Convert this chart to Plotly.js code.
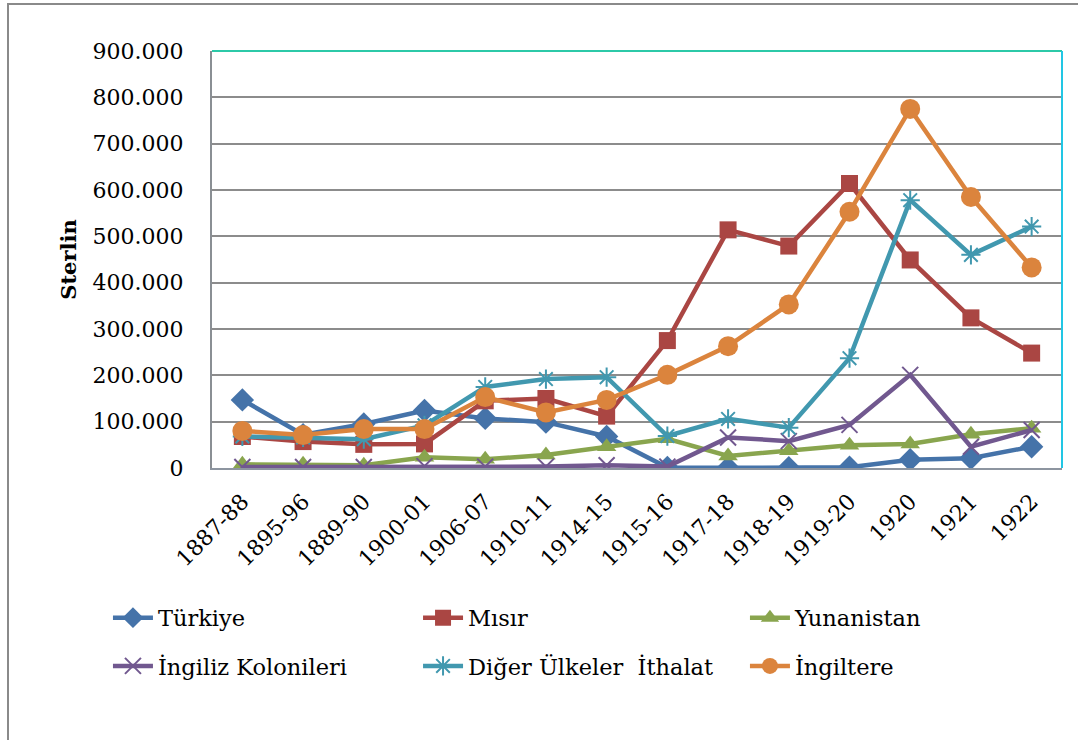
<!DOCTYPE html>
<html>
<head>
<meta charset="utf-8">
<script src="https://cdn.plot.ly/plotly-3.0.1.min.js"></script>
<style>
  html, body { margin: 0; padding: 0; background: #fff; }
  #wrap { position: relative; width: 1078px; height: 740px; overflow: hidden; }
  #frame { position: absolute; left: 7px; top: 3px; width: 1090px; height: 760px;
           border-left: 2px solid #8a8a8a; border-top: 2px solid #8a8a8a; pointer-events: none; }
  #chart { position: absolute; left: 0; top: 0; width: 1078px; height: 740px; }
</style>
</head>
<body>
<div id="wrap">
  <div id="chart"></div>
  <div id="frame"></div>
</div>
<script>
const categories = ["1887-88", "1895-96", "1889-90", "1900-01", "1906-07", "1910-11", "1914-15",
                    "1915-16", "1917-18", "1918-19", "1919-20", "1920", "1921", "1922"];

const turkiye    = [147000, 72000, 95000, 124000, 107000, 99000, 68000, 1000, 500, 500, 1500, 18000, 21000, 46000];
const misir      = [68000, 57000, 51000, 52000, 145000, 150000, 112000, 275000, 514000, 479000, 614000, 449000, 324000, 248000];
const yunanistan = [8000, 8000, 6000, 23000, 19000, 28000, 46000, 63000, 26000, 37000, 49000, 52000, 73000, 86000];
const kolonileri = [2000, 2000, 2000, 4000, 3000, 3000, 6000, 3000, 66000, 58000, 93000, 201000, 46000, 82000];
const digerUlkeler = [68000, 66000, 62000, 92000, 175000, 192000, 196000, 69000, 106000, 87000, 237000, 578000, 460000, 521000];
const ingiltere  = [80000, 71000, 84000, 84000, 153000, 120000, 147000, 201000, 263000, 353000, 553000, 775000, 585000, 433000];

const seriesNames = ["Türkiye", "Mısır", "Yunanistan", "İngiliz Kolonileri", "Diğer Ülkeler\u00a0 İthalat", "İngiltere"];
const yTitle = "Sterlin";

const FONT = "DejaVu Serif, Liberation Serif, serif";

function tr(name, y, color, symbol, size, legend, open, group) {
  const marker = { symbol: symbol, size: size, color: color };
  if (open) marker.line = { color: color, width: 2 };
  else marker.line = { width: 0 };
  return {
    type: "scatter", mode: "lines+markers", name: name,
    x: categories, y: y,
    line: { color: color, width: 4.5 },
    marker: marker,
    legend: legend,
    legendgroup: group
  };
}

const data = [
  tr(seriesNames[0], turkiye, "#4573A9", "diamond", 18, "legend", false, "g1"),
  tr(seriesNames[1], misir, "#AA4643", "square", 17, "legend2", false, "g2"),
  tr(seriesNames[2], yunanistan, "#89A54E", "triangle-up", 17, "legend3", false, "g3"),
  tr(seriesNames[3], kolonileri, "#71588F", "x-thin-open", 16, "legend", true, "g4"),
  tr(seriesNames[4], digerUlkeler, "#4198AF", "asterisk-open", 16, "legend2", true, "g5"),
  tr(seriesNames[5], ingiltere, "#DB843D", "circle", 20, "legend3", false, "g6")
];

const legendCommon = {
  orientation: "v", xanchor: "left", yanchor: "middle", y: -0.4173,
  font: { family: FONT, size: 22.5, color: "#000" },
  bgcolor: "rgba(0,0,0,0)", borderwidth: 0,
  itemwidth: 40, tracegroupgap: 16,
  traceorder: "grouped"
};

const layout = {
  width: 1078, height: 740,
  margin: { l: 212, r: 16, t: 51, b: 272, pad: 0 },
  paper_bgcolor: "rgba(0,0,0,0)", plot_bgcolor: "#fff",
  separators: ",.",
  font: { family: FONT, color: "#000" },
  showlegend: true,
  xaxis: {
    type: "category",
    range: [-0.5, 13.5],
    tickangle: -45,
    tickfont: { family: FONT, size: 22, color: "#000" },
    showgrid: false, zeroline: false,
    showline: true, linecolor: "#8d95a0", linewidth: 2,
    ticks: "", ticklabelstandoff: 10,
    fixedrange: true
  },
  yaxis: {
    range: [0, 900000], dtick: 100000, tick0: 0,
    tickformat: ",d",
    tickfont: { family: FONT, size: 22, color: "#000" },
    showgrid: true, gridcolor: "#8c8c8c", gridwidth: 2,
    zeroline: false,
    showline: true, linecolor: "#8a8f94", linewidth: 2,
    ticks: "", ticklabelstandoff: 22,
    title: { text: "<b>" + yTitle + "</b>", font: { family: FONT, size: 21, color: "#000" }, standoff: 10 },
    fixedrange: true
  },
  legend: Object.assign({}, legendCommon, { x: -0.1224 }),
  legend2: Object.assign({}, legendCommon, { x: 0.2424 }),
  legend3: Object.assign({}, legendCommon, { x: 0.627 }),
  shapes: [
    { type: "line", xref: "paper", yref: "paper", x0: 0, x1: 1, y0: 1, y1: 1,
      line: { color: "#2CC9A8", width: 2 } },
    { type: "line", xref: "paper", yref: "paper", x0: 1, x1: 1, y0: 0, y1: 1,
      line: { color: "#22C6E4", width: 2 } }
  ]
};

Plotly.newPlot("chart", data, layout, { displayModeBar: false, staticPlot: true });
</script>
</body>
</html>
